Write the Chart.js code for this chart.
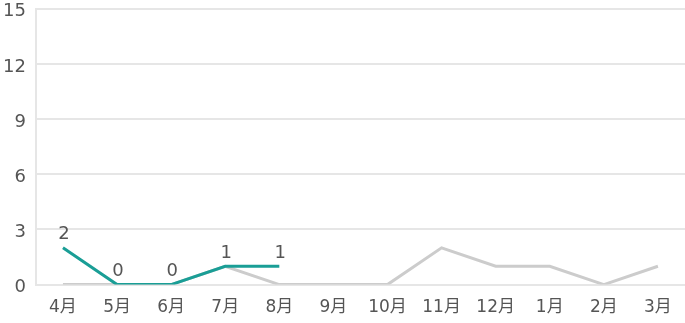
<!DOCTYPE html>
<html>
<head>
<meta charset="utf-8">
<script src="https://cdn.jsdelivr.net/npm/chart.js@4"></script>
<style>
    html, body { margin: 0; padding: 0; background: #fff; overflow: hidden; }
    #wrap { width: 692px; height: 335px; margin-top: -12px; margin-left: -7px; }
</style>
</head>
<body>
<div id="wrap"><canvas id="monthChart"></canvas></div>
<script>
// chart data
const months = ['4月', '5月', '6月', '7月', '8月', '9月', '10月', '11月', '12月', '1月', '2月', '3月'];
const lastYear = [0, 0, 0, 1, 0, 0, 0, 2, 1, 1, 0, 1];
const thisYear = [2, 0, 0, 1, 1];
const yTicks = [0, 3, 6, 9, 12, 15];

const FONT = '"DejaVu Sans", "Noto Sans CJK JP", sans-serif';

// wider letter spacing like the original
const spacing = {
    id: 'spacing',
    beforeInit(chart) {
        chart.ctx.letterSpacing = '2px';
    }
};

// draw value labels above the teal line
const valueLabels = {
    id: 'valueLabels',
    afterDatasetsDraw(chart) {
        const ctx = chart.ctx;
        const meta = chart.getDatasetMeta(0);
        ctx.save();
        ctx.font = '18px ' + FONT;
        ctx.fillStyle = '#555555';
        ctx.textAlign = 'center';
        ctx.textBaseline = 'middle';
        meta.data.forEach((pt, i) => {
            ctx.fillText(String(thisYear[i]), pt.x + 1, pt.y - 13);
        });
        ctx.restore();
    }
};

new Chart(document.getElementById('monthChart'), {
    type: 'line',
    data: {
        labels: months,
        datasets: [{
            data: thisYear,
            borderColor: '#1a9e96',
            borderWidth: 3,
            pointRadius: 0,
            tension: 0
        }, {
            data: lastYear,
            borderColor: '#cccccc',
            borderWidth: 3,
            pointRadius: 0,
            tension: 0
        }]
    },
    options: {
        responsive: true,
        maintainAspectRatio: false,
        animation: false,
        layout: { padding: 0 },
        plugins: {
            legend: { display: false },
            tooltip: { enabled: false }
        },
        scales: {
            x: {
                offset: true,
                grid: { display: false },
                border: { display: false },
                ticks: {
                    color: '#555555',
                    font: { family: FONT, size: 17 },
                    maxRotation: 0,
                    padding: 5
                }
            },
            y: {
                min: 0,
                max: 15,
                afterBuildTicks: axis => {
                    axis.ticks = yTicks.map(v => ({ value: v }));
                },
                grid: { color: '#e6e6e6', lineWidth: 2, drawTicks: false },
                border: { color: '#e6e6e6', width: 2 },
                ticks: {
                    color: '#555555',
                    font: { family: FONT, size: 18 },
                    padding: 10,
                    labelOffset: 3
                }
            }
        }
    },
    plugins: [spacing, valueLabels]
});
</script>
</body>
</html>
